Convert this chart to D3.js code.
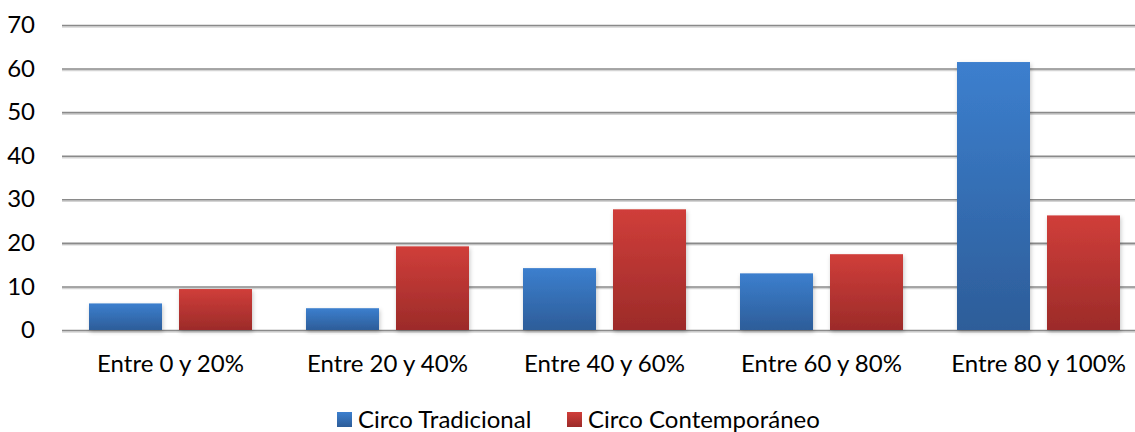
<!DOCTYPE html>
<html>
<head>
<meta charset="utf-8">
<script src="https://cdn.jsdelivr.net/npm/d3@7"></script>
<style>
  body { margin: 0; background: #fff; }
  svg text { font-family: Lato, "Open Sans", sans-serif; fill: #000; }
</style>
</head>
<body>
<div id="chart"></div>
<script>
const categories = ['Entre 0 y 20%', 'Entre 20 y 40%', 'Entre 40 y 60%', 'Entre 60 y 80%', 'Entre 80 y 100%'];
const seriesNames = ['Circo Tradicional', 'Circo Contemporáneo'];
const tradicional = [6.1, 5.0, 14.2, 13.0, 61.5];
const contemporaneo = [9.4, 19.2, 27.7, 17.4, 26.3];
const yTicks = [0, 10, 20, 30, 40, 50, 60, 70];

const width = 1135, height = 432;
const margin = {top: 25, bottom: 102, left: 62, right: -12};
const plot_w = width - margin.left - margin.right;
const plot_h = height - margin.top - margin.bottom;
const fontSize = 24;

const svg = d3.select('#chart').append('svg')
    .attr('width', width)
    .attr('height', height);

const defs = svg.append('defs');
function gradient(id, top, bottom) {
    const g = defs.append('linearGradient').attr('id', id)
        .attr('x1', 0).attr('y1', 0).attr('x2', 0).attr('y2', 1);
    g.append('stop').attr('offset', '0%').attr('stop-color', top);
    g.append('stop').attr('offset', '100%').attr('stop-color', bottom);
}
gradient('gBlue', '#3c7fce', '#2d5d99');
gradient('gRed', '#d03e3a', '#9c2b29');

const shadow = defs.append('filter').attr('id', 'shadow')
    .attr('x', '-20%').attr('y', '-20%').attr('width', '140%').attr('height', '140%');
shadow.append('feDropShadow').attr('dx', 1).attr('dy', 2).attr('stdDeviation', 2)
    .attr('flood-color', '#000').attr('flood-opacity', 0.22);

const x = d3.scaleBand().domain(categories).range([0, plot_w]).paddingInner(0).paddingOuter(0);
const y = d3.scaleLinear().domain([0, 70]).range([plot_h, 0]);

const g = svg.append('g').attr('transform', 'translate(' + margin.left + ',' + margin.top + ')');

// gridlines (soft shadow line under each)
g.append('g').attr('class', 'grid-shadow')
    .attr('transform', 'translate(0,1.5)')
    .call(d3.axisLeft(y).tickValues(yTicks).tickSize(-plot_w).tickFormat(''))
    .call(s => s.select('.domain').remove())
    .call(s => s.selectAll('line').attr('stroke', '#d4d4d4').attr('stroke-width', 1.5));
g.append('g').attr('class', 'grid')
    .call(d3.axisLeft(y).tickValues(yTicks).tickSize(-plot_w).tickFormat(''))
    .call(s => s.select('.domain').remove())
    .call(s => s.selectAll('line').attr('stroke', '#8a8a8a').attr('stroke-width', 1.6));

// y axis labels
g.append('g')
    .call(d3.axisLeft(y).tickValues(yTicks).tickSize(0).tickPadding(27))
    .call(s => s.select('.domain').remove())
    .call(s => s.selectAll('text').attr('font-size', fontSize).style('font-family', 'Lato'));

// bars
const barW = 73, gap = 17;
const series = [
    {name: seriesNames[0], values: tradicional, fill: 'url(#gBlue)'},
    {name: seriesNames[1], values: contemporaneo, fill: 'url(#gRed)'}
];
series.forEach((s, si) => {
    g.append('g').selectAll('rect')
        .data(s.values)
        .enter()
        .append('rect')
        .attr('x', (d, i) => x(categories[i]) + x.bandwidth() / 2 - (barW + gap / 2) + si * (barW + gap))
        .attr('y', d => y(d))
        .attr('width', barW)
        .attr('height', d => y(0) - y(d))
        .attr('fill', s.fill)
        .attr('filter', 'url(#shadow)');
});

// x axis labels
g.append('g')
    .attr('transform', 'translate(0,' + plot_h + ')')
    .call(d3.axisBottom(x).tickSize(0).tickPadding(25))
    .call(s => s.select('.domain').remove())
    .call(s => s.selectAll('text').attr('font-size', fontSize).style('font-family', 'Lato'));

// legend
const legendX = [337, 567];
const legend = svg.append('g');
series.forEach((s, si) => {
    legend.append('rect')
        .attr('x', legendX[si]).attr('y', 412)
        .attr('width', 15).attr('height', 15)
        .attr('fill', s.fill);
    legend.append('text')
        .attr('x', legendX[si] + 21).attr('y', 420)
        .attr('dy', '0.35em')
        .attr('font-size', fontSize)
        .text(s.name);
});
</script>
</body>
</html>
